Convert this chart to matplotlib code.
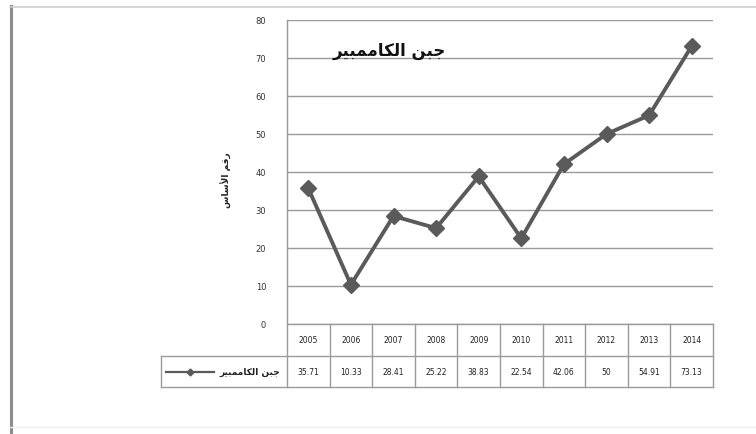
import numpy as np
import matplotlib.pyplot as plt
from matplotlib.lines import Line2D

# data
years = ['2005', '2006', '2007', '2008', '2009', '2010', '2011', '2012', '2013', '2014']
values = [35.71, 10.33, 28.41, 25.22, 38.83, 22.54, 42.06, 50, 54.91, 73.13]
value_labels = ['35.71', '10.33', '28.41', '25.22', '38.83', '22.54', '42.06', '50', '54.91', '73.13']
y_ticks = [0, 10, 20, 30, 40, 50, 60, 70, 80]

# Arabic text written in presentation forms, visual (left-to-right) order,
# since matplotlib does no shaping / bidi on its own
title_text = '\uFEAE\uFEF4\uFE92\uFEE4\uFEE3\uFE8E\uFEDC\uFEDF\uFE8D \uFEE6\uFE92\uFE9F'   # جبن الكاممبير
ylabel_text = '\uFEB1\uFE8E\uFEB3\uFEF7\uFE8D \uFEE2\uFED7\uFEAD'                         # رقم الأساس

W, H = 756, 435
LINE = '#5a5a5a'
GRID = '#9a9a9a'

fig = plt.figure(figsize=(W / 100, H / 100), dpi=100)
fig.patch.set_facecolor('white')


def fx(px):
    return px / W


def fy(py):
    return 1 - py / H


# outer frame of the pasted chart
fig.add_artist(Line2D([fx(11), fx(11)], [fy(7), fy(435)], color='#8c8c8c', lw=2.2))
fig.add_artist(Line2D([fx(10), fx(756)], [fy(7.5), fy(7.5)], color='#cfcfcf', lw=1.2))
fig.add_artist(Line2D([fx(10), fx(756)], [fy(428), fy(428)], color='#efefef', lw=1.0))

# plot area
x0, x1, y_top, y_bot = 287, 713, 21, 325
ax = fig.add_axes([fx(x0), fy(y_bot), fx(x1 - x0), fy(y_top) - fy(y_bot)])
x = np.arange(len(years))
ax.set_xlim(-0.5, len(years) - 0.5)
ax.set_ylim(0, 80)
ax.set_yticks(y_ticks)
ax.set_yticklabels([str(v) for v in y_ticks], fontsize=6, color='#333333')
ax.tick_params(axis='y', length=0, pad=15)
ax.set_xticks([])
ax.grid(axis='y', color=GRID, lw=1.0)
ax.set_axisbelow(True)
for s in ['top', 'right', 'bottom']:
    ax.spines[s].set_visible(False)
ax.spines['left'].set_color(GRID)

ax.plot(x, values, color=LINE, lw=2.8, marker='D', markersize=8,
        markerfacecolor=LINE, markeredgecolor=LINE, zorder=3)

ax.text(0.24, 0.9, title_text, transform=ax.transAxes, ha='center', va='center',
        fontsize=12, fontweight='bold', color='#111111', family='DejaVu Sans')
fig.text(fx(226), fy(180), ylabel_text, rotation=90, ha='center', va='center',
         fontsize=6.5, fontweight='bold', color='#222222')

# data table under the plot
tab_left, row1, row2, row3 = 161, 325, 357, 388
col_w = (x1 - x0) / len(years)
tab = fig.add_axes([0, 0, 1, 1])
tab.set_xlim(0, W)
tab.set_ylim(H, 0)
tab.axis('off')
tab.patch.set_alpha(0)

tab.plot([x0, x1], [row1, row1], color=GRID, lw=1.0)
tab.plot([tab_left, x1], [row2, row2], color=GRID, lw=1.0)
tab.plot([tab_left, x1], [row3, row3], color=GRID, lw=1.0)
tab.plot([tab_left, tab_left], [row2, row3], color=GRID, lw=1.0)
for i in range(len(years) + 1):
    xc = x0 + i * col_w
    tab.plot([xc, xc], [row1 if i > 0 else y_top, row3], color=GRID, lw=1.0)

for i, (yr, lab) in enumerate(zip(years, value_labels)):
    cx = x0 + (i + 0.5) * col_w
    tab.text(cx, (row1 + row2) / 2, yr, ha='center', va='center', fontsize=5.5, color='#222222')
    tab.text(cx, (row2 + row3) / 2, lab, ha='center', va='center', fontsize=5.5, color='#222222')

# legend key in the table
ym = (row2 + row3) / 2
tab.plot([166, 214], [ym, ym], color=LINE, lw=1.6)
tab.plot([190], [ym], marker='D', markersize=3.5, color=LINE)
tab.text(250, ym, title_text, ha='center', va='center', fontsize=6.5, fontweight='bold',
         color='#222222')

fig.savefig('out.png', dpi=100)
